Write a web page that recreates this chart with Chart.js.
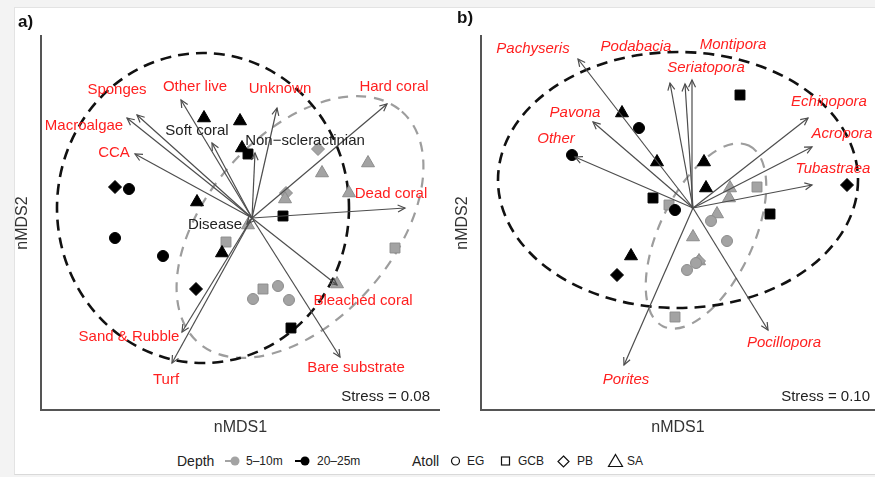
<!DOCTYPE html>
<html>
<head>
<meta charset="utf-8">
<script src="https://cdn.jsdelivr.net/npm/chart.js@4.4.1/dist/chart.umd.min.js"></script>
<style>
  body { margin: 0; width: 875px; height: 477px; overflow: hidden; background: #f3f3f3; font-family: "Liberation Sans", Arial, Helvetica, sans-serif; }
  #panel { position: absolute; left: 14px; top: 7px; width: 861px; height: 468px; background: #fff; border-left: 1px solid #e3e3e3; border-top: 1px solid #e3e3e3; border-bottom: 1px solid #d9d9d9; box-sizing: border-box; }
  canvas { position: absolute; top: 0; }
  #chartA { left: 0; }
  #chartB { left: 440px; }
  .tag { position: absolute; font-size: 17px; font-weight: bold; color: #111; line-height: 20px; }
  .leg { position: absolute; top: 453px; font-size: 12px; line-height: 16px; color: #222; }
  .legTitle { font-size: 14px; top: 452px; line-height: 18px; }
  .sym { position: absolute; top: 455px; }
</style>
</head>
<body>
<div id="panel"></div>
<canvas id="chartA" width="440" height="437"></canvas>
<canvas id="chartB" width="435" height="437"></canvas>
<div class="tag" style="left:18px;top:12px">a)</div>
<div class="tag" style="left:457px;top:8px">b)</div>

<div class="leg legTitle" style="left:177px">Depth</div>
<svg class="sym" style="left:225px" width="16" height="12"><line x1="0" y1="6" x2="7" y2="6" stroke="#a3a3a3" stroke-width="2"/><circle cx="10" cy="6" r="4.5" fill="#a3a3a3"/></svg>
<div class="leg" style="left:246px">5–10m</div>
<svg class="sym" style="left:295px" width="16" height="12"><line x1="0" y1="6" x2="7" y2="6" stroke="#000" stroke-width="2"/><circle cx="10" cy="6" r="4.5" fill="#000"/></svg>
<div class="leg" style="left:317px">20–25m</div>
<div class="leg legTitle" style="left:412px">Atoll</div>
<svg class="sym" style="left:450px" width="12" height="12"><circle cx="5.5" cy="6" r="4" fill="none" stroke="#111" stroke-width="1.2"/></svg>
<div class="leg" style="left:467px">EG</div>
<svg class="sym" style="left:500px" width="12" height="12"><rect x="1.5" y="2" width="8" height="8" fill="none" stroke="#111" stroke-width="1.2"/></svg>
<div class="leg" style="left:518px">GCB</div>
<svg class="sym" style="left:557px" width="14" height="14"><polygon points="6.5,1 12,6.5 6.5,12 1,6.5" fill="none" stroke="#111" stroke-width="1.2"/></svg>
<div class="leg" style="left:577px">PB</div>
<svg class="sym" style="left:607px;top:453px" width="18" height="15"><polygon points="8.5,1.5 15.5,13.5 1.5,13.5" fill="none" stroke="#111" stroke-width="1.2"/></svg>
<div class="leg" style="left:627px">SA</div>

<script>
const FONT = '"Liberation Sans", Arial, Helvetica, sans-serif';
const SHALLOW = "5–10m";
const DEEP = "20–25m";

// ---- a) benthic categories ----
const siteAx = [-0.48, -0.12, -0.10, -0.04, 0.66, 1.16, 0.70, -1.37, -1.23, 0.34, 0.33, 0.97, -0.55, 0.31, -0.04, -1.37, -0.26, 1.43, -0.89, -0.30, -0.56, 0.01, 0.11, 0.26, 0.37, 0.39, 0.85];
const siteAy = [1.00, 0.97, 0.70, 0.64, 0.69, 0.55, 0.45, 0.31, 0.29, 0.25, 0.19, 0.25, 0.16, 0.02, -0.07, -0.20, -0.24, -0.30, -0.38, -0.35, -0.71, -0.81, -0.71, -0.68, -0.82, -1.10, -0.66];
const siteAdepth = [DEEP, DEEP, DEEP, DEEP, SHALLOW, SHALLOW, SHALLOW, DEEP, DEEP, SHALLOW, SHALLOW, SHALLOW, DEEP, DEEP, SHALLOW, DEEP, SHALLOW, SHALLOW, DEEP, DEEP, DEEP, SHALLOW, SHALLOW, SHALLOW, SHALLOW, DEEP, SHALLOW];
const siteAatoll = ["SA", "SA", "SA", "GCB", "PB", "SA", "SA", "PB", "EG", "PB", "SA", "SA", "SA", "GCB", "SA", "EG", "GCB", "GCB", "EG", "SA", "PB", "EG", "GCB", "EG", "EG", "GCB", "SA"];

const vecAnames = ["Hard coral", "Dead coral", "Bleached coral", "Bare substrate", "Turf", "Sand & Rubble", "CCA", "Macroalgae", "Sponges", "Other live", "Soft coral", "Unknown", "Non\u2212scleractinian", "Disease"];
const vecAx = [1.35, 1.53, 0.85, 0.88, -0.80, -0.70, -1.17, -1.25, -1.15, -0.71, -0.40, 0.25, 0.03, -0.05];
const vecAy = [1.14, 0.10, -0.67, -1.39, -1.45, -1.14, 0.64, 1.00, 1.03, 1.18, 0.75, 1.10, 0.65, -0.06];
const vecAlabelX = [1.42, 1.39, 1.11, 1.04, -0.86, -1.23, -1.38, -1.68, -1.35, -0.57, -0.55, 0.28, 0.53, -0.37];
const vecAlabelY = [1.31, 0.24, -0.83, -1.50, -1.62, -1.19, 0.65, 0.92, 1.28, 1.31, 0.87, 1.29, 0.77, -0.07];
const vecAsig = [true, true, true, true, true, true, true, true, true, true, false, true, false, false];

const ellAdepth = [SHALLOW, DEEP];
const ellAcx = [0.48, -0.49];
const ellAcy = [-0.09, 0.10];
const ellAra = [1.54, 1.46];
const ellArb = [0.93, 1.55];
const ellAangle = [48.6, 0];
const stressA = 0.08;

// ---- b) coral genera ----
const siteBx = [0.47, -0.71, -0.54, -1.21, -0.36, 0.11, 0.13, 0.37, 0.64, 1.54, -0.40, -0.24, -0.18, 0.77, 0.24, 0.18, 0.00, 0.34, 0.06, 0.06, 0.03, -0.06, -0.62, -0.76, -0.18, 0.36];
const siteBy = [1.13, 0.95, 0.80, 0.53, 0.46, 0.46, 0.20, 0.20, 0.21, 0.23, 0.10, 0.03, -0.02, -0.06, -0.06, -0.13, -0.29, -0.33, -0.53, -0.53, -0.55, -0.62, -0.48, -0.67, -1.09, 0.10];
const siteBdepth = [DEEP, DEEP, DEEP, DEEP, DEEP, DEEP, DEEP, SHALLOW, SHALLOW, DEEP, DEEP, SHALLOW, DEEP, DEEP, SHALLOW, SHALLOW, SHALLOW, SHALLOW, SHALLOW, SHALLOW, SHALLOW, SHALLOW, DEEP, DEEP, SHALLOW, SHALLOW];
const siteBatoll = ["GCB", "SA", "EG", "EG", "SA", "SA", "SA", "SA", "GCB", "PB", "GCB", "GCB", "EG", "GCB", "SA", "EG", "SA", "EG", "SA", "PB", "EG", "EG", "SA", "PB", "GCB", "SA"];

const vecBnames = ["Pachyseris", "Podabacia", "Seriatopora", "Montipora", "Pavona", "Other", "Echinopora", "Acropora", "Tubastraea", "Porites", "Pocillopora"];
const vecBx = [-1.15, -0.23, -0.08, -0.01, -1.00, -1.18, 1.15, 1.19, 1.19, -0.69, 0.75];
const vecBy = [1.49, 1.25, 1.24, 1.28, 0.86, 0.51, 0.90, 0.61, 0.23, -1.57, -1.22];
const vecBlabelX = [-1.60, -0.57, 0.13, 0.40, -1.18, -1.37, 1.36, 1.49, 1.40, -0.67, 0.91];
const vecBlabelY = [1.59, 1.61, 1.40, 1.63, 0.95, 0.69, 1.06, 0.74, 0.39, -1.72, -1.35];
const vecBsig = [true, true, true, true, true, true, true, true, true, true, true];

const ellBdepth = [SHALLOW, DEEP];
const ellBcx = [0.13, -0.15];
const ellBcy = [-0.28, 0.28];
const ellBra = [1.00, 1.80];
const ellBrb = [0.47, 1.28];
const ellBangle = [64.7, 0];
const stressB = 0.10;

const shapeOf = { EG: "circle", GCB: "rect", PB: "rectRot", SA: "triangle" };
const radiusOf = { EG: 5.5, GCB: 7, PB: 6.5, SA: 7.5 };
const fillOf = { [SHALLOW]: "#a3a3a3", [DEEP]: "#000000" };
const edgeOf = { [SHALLOW]: "#8c8c8c", [DEEP]: "#000000" };

function biplotPlugin(p) {
  return {
    id: "biplot",
    beforeDatasetsDraw(chart) {
      const { ctx, scales: { x, y } } = chart;
      ctx.save();
      p.ell.cx.forEach((cx, i) => {
        const px = x.getPixelForValue(cx);
        const py = y.getPixelForValue(p.ell.cy[i]);
        const a = x.getPixelForValue(cx + p.ell.ra[i]) - px;
        const b = py - y.getPixelForValue(p.ell.cy[i] + p.ell.rb[i]);
        const deep = p.ell.depth[i] === DEEP;
        ctx.beginPath();
        ctx.ellipse(px, py, a, b, -p.ell.angle[i] * Math.PI / 180, 0, Math.PI * 2);
        ctx.setLineDash(deep ? [11, 7] : [10, 8]);
        ctx.lineWidth = deep ? 2.6 : 2.2;
        ctx.strokeStyle = deep ? "#111" : "#9d9d9d";
        ctx.stroke();
      });
      ctx.restore();
    },
    afterDatasetsDraw(chart) {
      const { ctx, chartArea, scales: { x, y } } = chart;
      ctx.save();
      // open arrow heads
      ctx.strokeStyle = "#4d4d4d";
      ctx.lineWidth = 1.2;
      chart.data.datasets.forEach((ds, i) => {
        if (!ds.arrow) return;
        const pts = chart.getDatasetMeta(i).data;
        const p0 = pts[0], p1 = pts[1];
        const ang = Math.atan2(p1.y - p0.y, p1.x - p0.x);
        const len = 8;
        ctx.beginPath();
        ctx.moveTo(p1.x - len * Math.cos(ang - 0.45), p1.y - len * Math.sin(ang - 0.45));
        ctx.lineTo(p1.x, p1.y);
        ctx.lineTo(p1.x - len * Math.cos(ang + 0.45), p1.y - len * Math.sin(ang + 0.45));
        ctx.stroke();
      });
      // vector labels
      ctx.textAlign = "center";
      ctx.textBaseline = "middle";
      p.names.forEach((name, i) => {
        ctx.font = (p.italic ? "italic " : "") + "15px " + FONT;
        ctx.fillStyle = p.sig[i] ? "#ff1f1f" : "#222";
        ctx.fillText(name, x.getPixelForValue(p.labelX[i]), y.getPixelForValue(p.labelY[i]));
      });
      // stress
      ctx.font = "15px " + FONT;
      ctx.fillStyle = "#222";
      ctx.textAlign = "right";
      ctx.fillText("Stress = " + p.stress.toFixed(2), chartArea.right - p.stressPad, chartArea.bottom - 13);
      ctx.restore();
    }
  };
}

function makeBiplot(canvasId, p) {
  const pointSet = {
    data: p.sx.map((v, i) => ({ x: v, y: p.sy[i] })),
    pointStyle: (c) => shapeOf[p.atoll[c.dataIndex]] || "circle",
    pointRadius: (c) => radiusOf[p.atoll[c.dataIndex]] || 5,
    backgroundColor: (c) => fillOf[p.depth[c.dataIndex]] || "#000",
    borderColor: (c) => edgeOf[p.depth[c.dataIndex]] || "#000",
    borderWidth: 1,
    order: 1
  };
  const arrowSets = p.vx.map((v, i) => ({
    arrow: true,
    data: [{ x: 0, y: 0 }, { x: v, y: p.vy[i] }],
    showLine: true,
    pointRadius: 0,
    borderColor: "#4d4d4d",
    borderWidth: 1.2,
    order: 0
  }));
  const axisTitle = (text) => ({ display: true, text, color: "#333", padding: 0, font: { size: 16, family: FONT } });
  return new Chart(document.getElementById(canvasId), {
    type: "scatter",
    data: { datasets: [pointSet, ...arrowSets] },
    options: {
      responsive: false,
      animation: false,
      events: [],
      layout: { autoPadding: false, padding: { left: 13, top: 36, right: 0, bottom: 0 } },
      plugins: { legend: { display: false }, tooltip: { enabled: false } },
      scales: {
        x: {
          type: "linear", min: p.xMin, max: p.xMax,
          grid: { display: false },
          ticks: { display: false },
          border: { display: true, color: "#555", width: 2 },
          title: axisTitle("nMDS1"),
          afterFit: (s) => { s.height = 27; }
        },
        y: {
          type: "linear", min: p.yMin, max: p.yMax,
          grid: { display: false },
          ticks: { display: false },
          border: { display: true, color: "#555", width: 2 },
          title: axisTitle("nMDS2"),
          afterFit: (s) => { s.width = 28; }
        }
      }
    },
    plugins: [biplotPlugin(p)]
  });
}

makeBiplot("chartA", {
  sx: siteAx, sy: siteAy, depth: siteAdepth, atoll: siteAatoll,
  names: vecAnames, vx: vecAx, vy: vecAy, labelX: vecAlabelX, labelY: vecAlabelY, sig: vecAsig, italic: false,
  ell: { depth: ellAdepth, cx: ellAcx, cy: ellAcy, ra: ellAra, rb: ellArb, angle: ellAangle },
  stress: stressA, stressPad: 10,
  xMin: -2.11, xMax: 1.88, yMin: -1.92, yMax: 1.82
});

makeBiplot("chartB", {
  sx: siteBx, sy: siteBy, depth: siteBdepth, atoll: siteBatoll,
  names: vecBnames, vx: vecBx, vy: vecBy, labelX: vecBlabelX, labelY: vecBlabelY, sig: vecBsig, italic: true,
  ell: { depth: ellBdepth, cx: ellBcx, cy: ellBcy, ra: ellBra, rb: ellBrb, angle: ellBangle },
  stress: stressB, stressPad: 5,
  xMin: -2.12, xMax: 1.82, yMin: -2.02, yMax: 1.72
});
</script>
</body>
</html>
